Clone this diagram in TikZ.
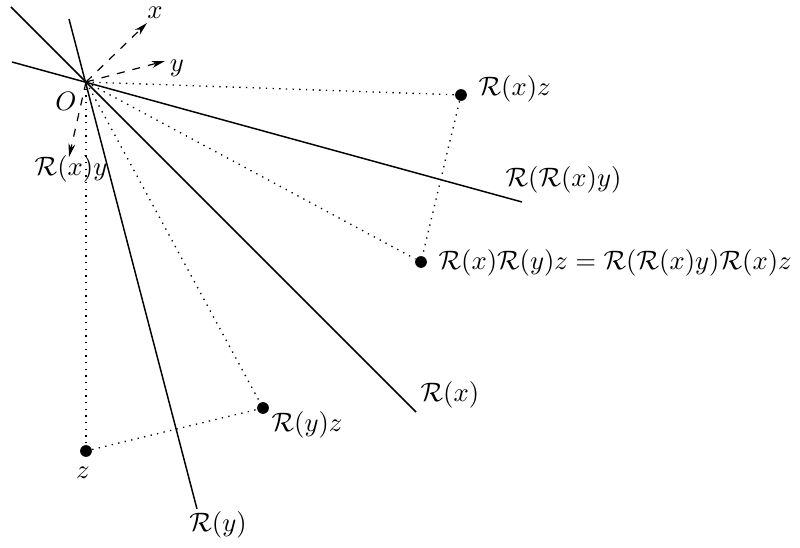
\documentclass[tikz,border=0pt]{standalone}
\usetikzlibrary{arrows.meta}
\begin{document}
\begin{tikzpicture}[x=0.375pt,y=-0.375pt,
  axis/.style={line width=0.55pt},
  proj/.style={dotted, line width=0.5pt},
  vec/.style={dashed,-{Stealth[length=5pt,width=2.6pt,inset=1.5pt]}, line width=0.45pt},
  pt/.style={circle,fill,inner sep=0pt,minimum size=4.4pt},
  lab/.style={inner sep=0pt}]
\useasboundingbox (0,0) rectangle (800,548);
\coordinate (O) at (86,82);
% axes
\coordinate (a1s) at (12,62);  \coordinate (a1e) at (522,202);
\coordinate (a2s) at (11,7);   \coordinate (a2e) at (416,412);
\coordinate (a3s) at (69,19);  \coordinate (a3e) at (197,509);
\draw[axis] (a1s) -- (a1e);
\draw[axis] (a2s) -- (a2e);
\draw[axis] (a3s) -- (a3e);
% points
\node[pt] (Rxz) at (461,95) {};
\node[pt] (z) at (86,451) {};
\node[pt] (Ryz) at (263,408) {};
\node[pt] (RxRyz) at (421,262) {};
% projections
\draw[proj] (O) -- (Rxz);
\draw[proj] (O) -- (RxRyz);
\draw[proj] (O) -- (Ryz);
\draw[proj] (O) -- (z);
\draw[proj] (z) -- (Ryz);
\draw[proj] (Rxz) -- (RxRyz);
% vectors
\coordinate (xt) at (147,23);
\coordinate (yt) at (165,61);
\coordinate (rt) at (69,157);
\draw[vec] (O) -- (xt);
\draw[vec] (O) -- (yt);
\draw[vec] (O) -- (rt);
% labels
\node[lab] (lx) at (155,13) {$x$};
\node[lab] (ly) at (177,68) {$y$};
\node[lab] (lO) at (66,101) {$O$};
\node[lab] (lRxy) at (71,169) {$\mathcal{R}(x)y$};
\node[lab,anchor=west] (lRxz) at (478,89) {$\mathcal{R}(x)z$};
\node[lab,anchor=west] (lRRxy) at (505,180) {$\mathcal{R}(\mathcal{R}(x)y)$};
\node[lab,anchor=west] (leq) at (438,263) {$\mathcal{R}(x)\mathcal{R}(y)z=\mathcal{R}(\mathcal{R}(x)y)\mathcal{R}(x)z$};
\node[lab,anchor=west] (lRx) at (420,395) {$\mathcal{R}(x)$};
\node[lab,anchor=west] (lRyz) at (271,425) {$\mathcal{R}(y)z$};
\node[lab] (lz) at (83,473) {$z$};
\node[lab] (lRy) at (218,525) {$\mathcal{R}(y)$};
\end{tikzpicture}
\end{document}
